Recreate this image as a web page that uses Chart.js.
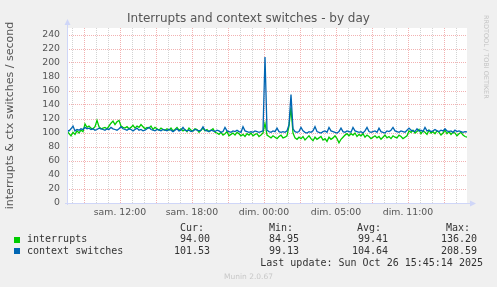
<!DOCTYPE html>
<html>
<head>
<meta charset="utf-8">
<script src="https://cdn.jsdelivr.net/npm/chart.js@4.4.0/dist/chart.umd.min.js"></script>
<style>
    html, body { margin: 0; padding: 0; background: #f0f0f0; }
    #wrap { position: relative; width: 497px; height: 287px; overflow: hidden; background: #f0f0f0; font-family: "DejaVu Sans", sans-serif; }
    #wrap canvas { position: absolute; left: 0; top: 0; }
    .t { position: absolute; white-space: pre; line-height: 12px; }
    .mono { font-family: "DejaVu Sans Mono", monospace; font-size: 10px; color: #333; }
    .r { text-align: right; }
    .sq { position: absolute; width: 6px; height: 6px; }
</style>
</head>
<body>
<div id="wrap">
    <canvas id="chartIrq" width="497" height="287"></canvas>

    <div class="t" style="left:0;width:497px;top:12px;text-align:center;font-size:12px;color:#555;">Interrupts and context switches - by day</div>
    <div class="t" style="left:482px;top:15px;writing-mode:vertical-rl;font-size:6.5px;line-height:8px;color:#c4c4c4;">RRDTOOL / TOBI OETIKER</div>

    <!-- legende -->
    <div class="t mono r" style="right:293px;top:222px;">Cur:</div>
    <div class="t mono r" style="right:204px;top:222px;">Min:</div>
    <div class="t mono r" style="right:116px;top:222px;">Avg:</div>
    <div class="t mono r" style="right:27px;top:222px;">Max:</div>

    <div class="sq" style="left:14px;top:237px;background:#00cc00;"></div>
    <div class="t mono" style="left:27px;top:233px;">interrupts</div>
    <div class="t mono r" style="right:287px;top:233px;">94.00</div>
    <div class="t mono r" style="right:198px;top:233px;">84.95</div>
    <div class="t mono r" style="right:109px;top:233px;">99.41</div>
    <div class="t mono r" style="right:20px;top:233px;">136.20</div>

    <div class="sq" style="left:14px;top:248px;background:#0066b3;"></div>
    <div class="t mono" style="left:27px;top:245px;">context switches</div>
    <div class="t mono r" style="right:287px;top:245px;">101.53</div>
    <div class="t mono r" style="right:198px;top:245px;">99.13</div>
    <div class="t mono r" style="right:109px;top:245px;">104.64</div>
    <div class="t mono r" style="right:20px;top:245px;">208.59</div>

    <div class="t mono r" style="right:14px;top:257px;">Last update: Sun Oct 26 15:45:14 2025</div>
    <div class="t" style="left:0;width:497px;top:271px;text-align:center;font-size:7.5px;color:#c8c8c8;">Munin 2.0.67</div>
</div>

<script>
// ==================================================
// Interrupts / context switches - by day (Munin)
// ==================================================

// echantillons toutes les 10 minutes, 0 = debut du graphe (sam. ~06:25)
const PAS_HEURES = 1 / 6;

// etiquettes de l'axe X (heures depuis le debut du graphe)
const tickLabels = ['sam. 12:00', 'sam. 18:00', 'dim. 00:00', 'dim. 05:00', 'dim. 11:00'];
const tickHours = [4.4167, 10.4167, 16.4167, 22.4167, 28.4167];

// interrupts / seconde
const interrupts = [
    104, 99, 96, 101, 98, 103, 100, 104, 102,
    113, 108, 110, 107, 106, 109, 118, 109, 106, 107, 108, 106, 110, 114, 117, 112, 116, 118, 110, 108, 107,
    109, 106, 108, 111, 107, 110, 108, 112, 109, 106, 108, 107, 110, 105, 108, 106, 104, 107, 105, 104,
    106, 104, 107, 103, 105, 108, 104, 106, 103, 105, 102, 107, 104, 103, 106, 105, 101, 104, 107, 103, 105, 102, 104, 106, 101,
    100, 98, 101, 97, 99, 102, 96, 98, 100, 97, 101, 99, 96, 98, 95, 99, 97, 100, 96, 98, 99, 95, 97, 100,
    114, 97,
    95, 93, 96, 94, 92, 95, 97, 93, 94, 96,
    110, 136.2, 100,
    93, 91, 94, 92, 95, 90, 93, 96, 92, 89, 94, 91, 93, 95, 90, 92, 88, 94, 91, 93, 96, 92, 86, 91, 94, 97, 99,
    96, 99, 97, 100, 95, 98, 96, 99, 94, 97, 95, 92, 94, 96, 93, 95, 91, 94, 97, 93, 95, 92, 96, 94, 93, 97, 95, 92, 94, 96,
    103, 101, 104, 100, 102, 105, 99, 103, 101, 98, 104, 100, 102, 99, 103, 101, 97, 100, 104, 99, 102, 98, 101, 100, 96, 99, 101, 97, 95, 94
];

// context switches / seconde
const ctxSwitches = [
    104, 103, 106, 110, 103, 105, 104, 106, 105,
    108, 106, 107, 105, 106, 104, 105, 107, 106, 105, 104, 106, 105, 108, 106, 105, 104, 106, 109, 106, 105,
    104, 106, 105, 103, 105, 107, 104, 105, 103, 104, 106, 108, 105, 104, 103, 105, 104, 103, 105, 104,
    103, 105, 104, 102, 104, 106, 103, 104, 108, 104, 103, 104, 102, 103, 105, 104, 103, 104, 109, 104, 103, 102, 104, 103, 102,
    104, 103, 101, 102, 108, 103, 102, 101, 103, 102, 104, 102, 101, 109, 103, 102, 101, 102, 101, 103, 102, 101, 102, 103,
    208.59, 104,
    102, 101, 103, 102, 107, 102, 101, 102, 101, 103,
    112, 155, 106,
    102, 101, 102, 108, 103, 101, 100, 102, 101, 103, 109, 102, 101, 100, 102, 103, 101, 108, 103, 102, 101, 100, 102, 107, 102, 101, 103,
    102, 101, 108, 103, 102, 101, 102, 100, 103, 108, 102, 101, 102, 103, 101, 107, 102, 101, 100, 103, 102, 104, 108, 103, 102, 101, 103, 102, 101, 104,
    107, 104, 103, 102, 106, 103, 104, 102, 108, 103, 104, 102, 103, 105, 103, 102, 104, 103, 106, 103, 102, 103, 101, 104, 102, 103, 102, 101, 102, 101.53
];

const heures = interrupts.map((v, i) => i * PAS_HEURES);

// lignes de grille verticales : une par heure, majeure toutes les 3 heures
const gridHours = [];
for (let k = 0; k <= 32; k++) gridHours.push(0.4167 + k);

const COULEUR_GRILLE_MAJ = 'rgba(240, 165, 165, 0.85)';
const COULEUR_GRILLE_MIN = 'rgba(200, 200, 200, 0.8)';

function estMajeureX(v) {
    const q = (v - 1.4167) / 3;
    return Math.abs(q - Math.round(q)) < 0.01;
}

// fond blanc de la zone de trace + axes avec fleches
const fondEtAxes = {
    id: 'fondEtAxes',
    beforeDraw(chart) {
        const a = chart.chartArea;
        const ctx = chart.ctx;
        ctx.save();
        ctx.fillStyle = '#ffffff';
        ctx.fillRect(a.left, a.top, a.right - a.left, a.bottom - a.top);
        ctx.restore();
    },
    afterDraw(chart) {
        const a = chart.chartArea;
        const ctx = chart.ctx;
        ctx.save();
        ctx.strokeStyle = '#cfd6f8';
        ctx.fillStyle = '#cfd6f8';
        ctx.lineWidth = 1;
        ctx.beginPath();
        ctx.moveTo(a.left + 0.5, a.bottom + 2);
        ctx.lineTo(a.left + 0.5, a.top - 4);
        ctx.moveTo(a.left - 2, a.bottom + 0.5);
        ctx.lineTo(a.right + 4, a.bottom + 0.5);
        ctx.stroke();
        // fleche haut
        ctx.beginPath();
        ctx.moveTo(a.left - 2.5, a.top - 3);
        ctx.lineTo(a.left + 3.5, a.top - 3);
        ctx.lineTo(a.left + 0.5, a.top - 9);
        ctx.closePath();
        ctx.fill();
        // fleche droite
        ctx.beginPath();
        ctx.moveTo(a.right + 3, a.bottom - 2.5);
        ctx.lineTo(a.right + 3, a.bottom + 3.5);
        ctx.lineTo(a.right + 9, a.bottom + 0.5);
        ctx.closePath();
        ctx.fill();
        ctx.restore();
    }
};

const ctx = document.getElementById('chartIrq').getContext('2d');

new Chart(ctx, {
    type: 'line',
    data: {
        labels: heures,
        datasets: [
            {
                label: 'interrupts',
                data: interrupts,
                borderColor: '#00cc00',
                borderWidth: 1.3,
                pointRadius: 0,
                tension: 0,
                order: 1
            },
            {
                label: 'context switches',
                data: ctxSwitches,
                borderColor: '#0066b3',
                borderWidth: 1.3,
                pointRadius: 0,
                tension: 0,
                order: 0
            }
        ]
    },
    options: {
        responsive: false,
        animation: false,
        layout: { padding: { left: 0, right: 30, top: 28, bottom: 0 } },
        plugins: {
            legend: { display: false },
            tooltip: { enabled: false }
        },
        scales: {
            x: {
                type: 'linear',
                min: 0,
                max: 200 * PAS_HEURES,
                afterBuildTicks: function(scale) {
                    scale.ticks = gridHours.map(v => ({ value: v }));
                },
                afterFit: function(scale) {
                    scale.height = 84;
                },
                border: { display: false, dash: [1, 1] },
                grid: {
                    drawTicks: false,
                    color: c => estMajeureX(c.tick.value) ? COULEUR_GRILLE_MAJ : COULEUR_GRILLE_MIN
                },
                ticks: {
                    autoSkip: false,
                    maxRotation: 0,
                    minRotation: 0,
                    padding: 4,
                    color: '#555',
                    font: { family: 'DejaVu Sans', size: 9.33 },
                    callback: function(value) {
                        const idx = tickHours.findIndex(h => Math.abs(h - value) < 0.01);
                        return idx >= 0 ? tickLabels[idx] : '';
                    }
                }
            },
            y: {
                min: 0,
                max: 250,
                afterFit: function(scale) {
                    scale.width = 67;
                },
                border: { display: false, dash: [1, 1] },
                grid: {
                    drawTicks: false,
                    color: c => (c.tick.value % 20 === 0 && c.tick.value > 0) ? COULEUR_GRILLE_MAJ : COULEUR_GRILLE_MIN
                },
                ticks: {
                    stepSize: 10,
                    padding: 7,
                    color: '#555',
                    font: { family: 'DejaVu Sans', size: 9.33 },
                    callback: function(value) {
                        return (value % 20 === 0 && value <= 240) ? String(value) : '';
                    }
                },
                title: {
                    display: true,
                    text: 'interrupts & ctx switches / second',
                    color: '#555',
                    font: { family: 'DejaVu Sans', size: 11 },
                    padding: { top: 4, bottom: 0 }
                }
            }
        }
    },
    plugins: [fondEtAxes]
});
</script>
</body>
</html>
